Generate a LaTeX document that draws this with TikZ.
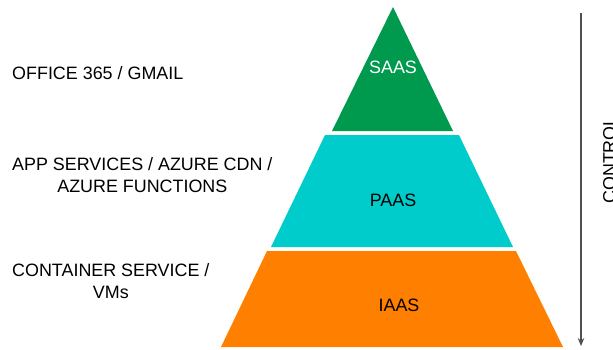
\documentclass[tikz,border=0pt]{standalone}
\usepackage{fontspec}
\setmainfont{Liberation Sans}
\usepackage{tikz}
\usetikzlibrary{arrows.meta, positioning}
\usepackage{xcolor}
\definecolor{saasgreen}{RGB}{0, 154, 78}
\definecolor{paascyan}{RGB}{0, 204, 204}
\definecolor{iaasorange}{RGB}{255, 128, 0}
\definecolor{ctrlgray}{RGB}{80, 80, 80}

\begin{document}
\begin{tikzpicture}[x=1pt, y=-1pt,
    lbl/.style={font=\fontsize{17.9}{22}\selectfont, inner sep=0pt, align=center},
    layer/.style={font=\fontsize{17.9}{22}\selectfont, inner sep=0pt}]
  \useasboundingbox (0,0) rectangle (613,349);
  % pyramid layers
  \fill[saasgreen] (393,7) -- (453,131) -- (332,131) -- cycle;
  \fill[paascyan] (325,135) -- (459,135) -- (513,247) -- (271,247) -- cycle;
  \fill[iaasorange] (267,251) -- (516,251) -- (563,347) -- (221,347) -- cycle;
  \node[layer, white] (saas) at (393,67) {SAAS};
  \node[layer] (paas) at (393,200) {PAAS};
  \node[layer] (iaas) at (399,305) {IAAS};
  % examples on the left
  \node[lbl, anchor=west] (saasapps) at (12,73) {OFFICE 365 / GMAIL};
  \node[lbl, anchor=west] (paasapps) at (12,175) {APP SERVICES / AZURE CDN /\\AZURE FUNCTIONS};
  \node[lbl, anchor=west] (iaasapps) at (12,281) {CONTAINER SERVICE /\\VMs};
  % control axis
  \coordinate (ctop) at (581,13);
  \coordinate (cbot) at (581,346);
  \draw[ctrlgray, line width=1.3pt, -{Stealth[length=8pt, width=6.5pt]}] (ctop) -- (cbot);
  \node[layer, rotate=90, anchor=base] (control) at (615.5,160) {CONTROL};
\end{tikzpicture}
\end{document}
